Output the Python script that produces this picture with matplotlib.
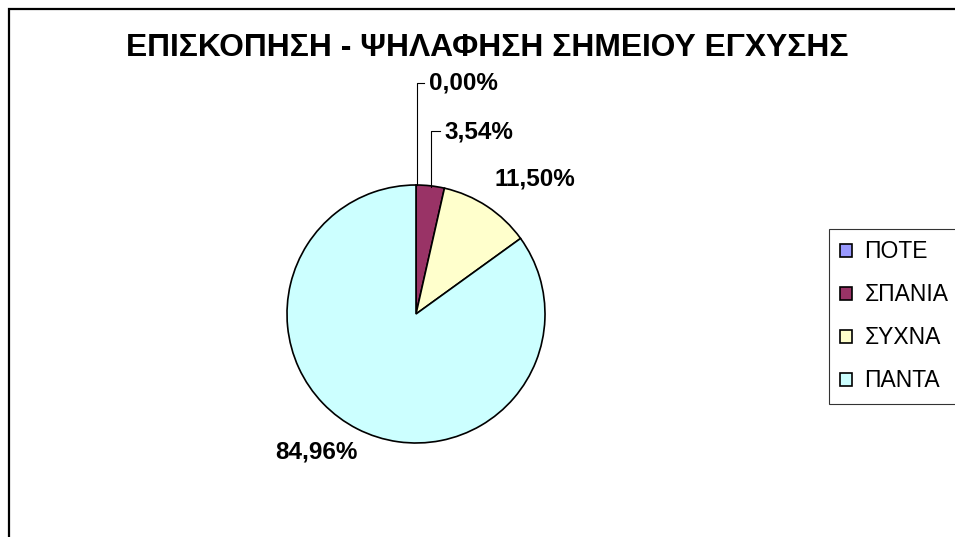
import matplotlib.pyplot as plt
from matplotlib.patches import Rectangle

plt.rcParams['font.family'] = ['Liberation Sans', 'DejaVu Sans']

categories = ['ΠΟΤΕ', 'ΣΠΑΝΙΑ', 'ΣΥΧΝΑ', 'ΠΑΝΤΑ']
values = [0.00, 3.54, 11.50, 84.96]
colors = ['#9999FF', '#993366', '#FFFFCC', '#CCFFFF']
title = 'ΕΠΙΣΚΟΠΗΣΗ - ΨΗΛΑΦΗΣΗ ΣΗΜΕΙΟΥ ΕΓΧΥΣΗΣ'

W, H = 955, 537
fig = plt.figure(figsize=(W / 100, H / 100), dpi=100)

# outer chart frame (right/bottom edges run off the picture)
fig.patches.append(Rectangle((8.5 / W, -0.05), 1.1, (H - 9) / H + 0.05,
                             transform=fig.transFigure, fill=False,
                             edgecolor='black', linewidth=1.6))

fig.text(487 / W, 1 - 48 / H, title, ha='center', va='center',
         fontsize=22.9, fontweight='bold')

cx, cy, r = 416, 314, 129
ax = fig.add_axes([(cx - r) / W, (H - cy - r) / H, 2 * r / W, 2 * r / H])
wedges, _ = ax.pie(values, colors=colors, startangle=90, counterclock=False,
                   wedgeprops=dict(edgecolor='black', linewidth=1.2))
ax.set_xlim(-1, 1)
ax.set_ylim(-1, 1)
ax.set_aspect('equal')
ax.axis('off')

def px(x, y):
    return (x - cx) / r, (cy - y) / r

def pct(v):
    return f'{v:.2f}%'.replace('.', ',')

# leader lines for the two small slices
for x0, y0, yl, x1 in [(416.5, 185, 83, 424), (431, 187, 131, 440)]:
    xs, ys = zip(px(x0, y0), px(x0, yl), px(x1, yl))
    ax.plot(xs, ys, color='black', linewidth=0.8, clip_on=False)

label_pos = [(429, 83), (444, 132), (494, 179), (275, 452)]
for v, (lx, ly) in zip(values, label_pos):
    ax.text(*px(lx, ly), pct(v), ha='left', va='center', fontsize=17.5,
            fontweight='bold', clip_on=False)

leg = fig.legend(wedges, categories, loc='upper left',
                 bbox_to_anchor=(829 / W, 1 - 229 / H), fontsize=16.5,
                 frameon=True, fancybox=False, edgecolor='black',
                 handlelength=0.5, handleheight=0.5, handletextpad=0.55,
                 labelspacing=0.87, borderpad=0.5, borderaxespad=0)
leg.get_frame().set_linewidth(0.8)

fig.savefig('out.png', dpi=100)
